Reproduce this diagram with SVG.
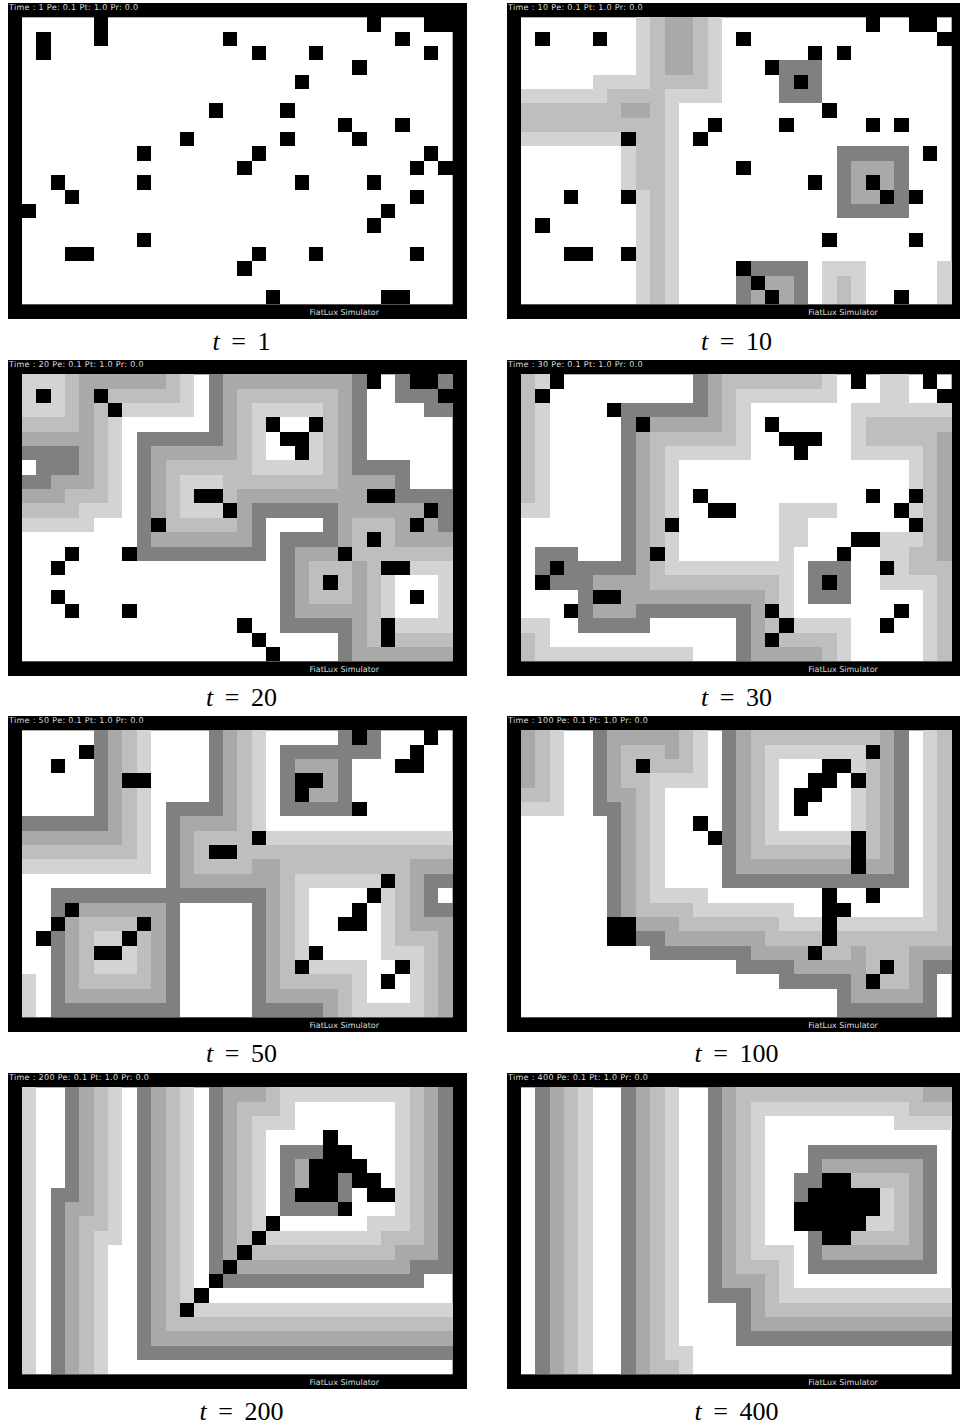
<svg xmlns="http://www.w3.org/2000/svg" width="960" height="1428" viewBox="0 0 960 1428">
<style>
.bg{fill:#fff}
.frame{fill:#000}
.inner{fill:#fff}
.grid path{shape-rendering:crispEdges}
.f1{fill:#d3d3d3}.f2{fill:#bebebe}.f3{fill:#a9a9a9}.f4{fill:#808080}
.s1,.s2,.s3,.s4,.k{fill:none;stroke-width:1}
.s1{stroke:#d3d3d3}.s2{stroke:#bebebe}.s3{stroke:#a9a9a9}.s4{stroke:#808080}.k{stroke:#000}
.hud{font-family:"DejaVu Sans",sans-serif;font-size:8px;fill:#ddd;text-rendering:geometricPrecision}
.top{letter-spacing:.32px}
.cap{font-family:"Liberation Serif",serif;font-size:26px;fill:#000;text-anchor:middle;word-spacing:5px}
.cap tspan{font-style:italic}
</style>
<rect class="bg" width="960" height="1428"/>

<g id="panel-t1">
<rect class="frame" x="8" y="3" width="459" height="316"/>
<rect class="inner" x="22" y="17.33" width="430.67" height="287"/>
<g class="grid" transform="translate(22 17.33) scale(14.356 14.35)">
<path class="k" d="M1.5 1V3M5.5 0V2M14 1.5H15M16 2.5H17M20 2.5H21M24 .5H25M26 1.5H27M28 .5H30M28 2.5H29M23 3.5H24M19 4.5H20M13 6.5H14M18 6.5H19M22 7.5H23M26 7.5H27M23 8.5H24M18 8.5H19M11 8.5H12M8 9.5H9M16 9.5H17M28 9.5H29M15 10.5H16M27 10.5H28M29 10.5H30M2 11.5H3M8 11.5H9M19 11.5H20M24 11.5H25M3 12.5H4M27 12.5H28M0 13.5H1M25 13.5H26M24 14.5H25M8 15.5H9M3 16.5H5M16 16.5H17M20 16.5H21M27 16.5H28M15 17.5H16M17 19.5H18M25 19.5H27"/>
</g>
<text class="hud top" x="9" y="10">Time : 1 Pe: 0.1 Pt: 1.0 Pr: 0.0</text>
<text class="hud" x="309.5" y="315">FiatLux Simulator</text>
<text class="cap" x="241.5" y="350"><tspan>t</tspan> = 1</text>
</g>

<g id="panel-t10">
<rect class="frame" x="507" y="3" width="453" height="316"/>
<rect class="inner" x="521" y="17.33" width="430.67" height="287"/>
<g class="grid" transform="translate(521 17.33) scale(14.356 14.35)">
<path class="f1" d="M8 0H14V6H11V20H8V12H7V9H0V5H5V4H8ZM21 17H24V20H21ZM29 17H30V20H29Z"/>
<path class="f2" d="M9 0H13V5H10V20H9V12H8V8H0V6H6V5H9ZM22 18H23V20H22Z"/>
<path class="f3" d="M10 0H12V4H10ZM7 6H9V7H7Z"/>
<path class="f4" d="M18 3H21V6H18ZM22 9H27V14H22ZM15 17H20V20H15Z"/>
<path class="f3" d="M23 10H26V13H23ZM17 18H19V20H17ZM16 19H17V20H16Z"/>
<path class="k" d="M1 1.5H2M5 1.5H6M15 1.5H16M24 .5H25M27 .5H29M29 1.5H30M20 2.5H21M22 2.5H23M17 3.5H18M19 4.5H20M21 6.5H22M13 7.5H14M18 7.5H19M24 7.5H25M26 7.5H27M12 8.5H13M7 8.5H8M28 9.5H29M15 10.5H16M20 11.5H21M24 11.5H25M25 12.5H26M27 12.5H28M3 12.5H4M7 12.5H8M1 14.5H2M21 15.5H22M27 15.5H28M3 16.5H5M7 16.5H8M15 17.5H16M16 18.5H17M17 19.5H18M26 19.5H27"/>
</g>
<text class="hud top" x="508" y="10">Time : 10 Pe: 0.1 Pt: 1.0 Pr: 0.0</text>
<text class="hud" x="808.3" y="315">FiatLux Simulator</text>
<text class="cap" x="736.5" y="350"><tspan>t</tspan> = 10</text>
</g>

<g id="panel-t20">
<rect class="frame" x="8" y="360" width="459" height="316"/>
<rect class="inner" x="22" y="374.33" width="430.67" height="287"/>
<g class="grid" transform="translate(22 374.33) scale(14.356 14.35)">
<path class="s1" d="M0 .5H3M11 .5H12M0 1.5H3M11 1.5H12M0 2.5H3M7 2.5H12M16 2.5H21M6.5 3V10M16.5 3V7M20.5 4V6M16 6.5H21M11 7.5H14M11 8.5H12M4 9.5H6M11 9.5H14M0 10.5H5M27 13.5H30M29.5 14V17M25.5 14V17M26 17.5H30"/>
<path class="s2" d="M3.5 0V3M10.5 0V2M6 1.5H10M15 1.5H22M5.5 2V9M15.5 2V7M21.5 2V8M0 3.5H4M10 6.5H15M10.5 7V10M14 7.5H21M3 8.5H5M14 8.5H15M0 9.5H4M10 10.5H15M23 10.5H26M23 11.5H24M25 11.5H26M23 12.5H30M20 13.5H23M24.5 13V19M20 14.5H21M22 14.5H23M20 15.5H23M26 18.5H30"/>
<path class="s3" d="M4 .5H10M14 .5H23M4.5 1V8M14.5 1V6M22.5 1V8M0 4.5H4M9 5.5H14M9.5 6V10M2 7.5H4M23 7.5H26M0 8.5H3M15 8.5H24M15 9.5H16M22 9.5H28M15 10.5H16M22 10.5H23M26 10.5H27M28 10.5H29M9 11.5H16M22 11.5H23M26 11.5H30M19 12.5H22M19.5 13V16M23.5 13V19M19 16.5H23M23 19.5H30"/>
<path class="s4" d="M13.5 0V4M23.5 0V6M26 .5H27M29 .5H30M26 1.5H29M28 2.5H30M8 4.5H14M8.5 5V12M0 5.5H4M1 6.5H4M23 6.5H27M0 7.5H2M26 7.5H27M26 8.5H30M16 9.5H22M29 9.5H30M16 10.5H17M21 10.5H22M29 10.5H30M16 11.5H17M18 11.5H22M8 12.5H17M18.5 12V17M18 17.5H23M22.5 18V20"/>
<path class="k" d="M1 1.5H2M5 1.5H6M6 2.5H7M17 3.5H18M20 3.5H21M18 4.5H20M19 5.5H20M24 .5H25M27 .5H29M29 1.5H30M12 8.5H14M14 9.5H15M24 8.5H26M28 9.5H29M27 10.5H28M9 10.5H10M24 11.5H25M3 12.5H4M7 12.5H8M22 12.5H23M2 13.5H3M25 13.5H27M21 14.5H22M2 15.5H3M27 15.5H28M3 16.5H4M7 16.5H8M15 17.5H16M25.5 17V19M16 18.5H17M17 19.5H18"/>
</g>
<text class="hud top" x="9" y="367">Time : 20 Pe: 0.1 Pt: 1.0 Pr: 0.0</text>
<text class="hud" x="309.5" y="672">FiatLux Simulator</text>
<text class="cap" x="241.5" y="706"><tspan>t</tspan> = 20</text>
</g>

<g id="panel-t30">
<rect class="frame" x="507" y="360" width="453" height="316"/>
<rect class="inner" x="521" y="374.33" width="430.67" height="287"/>
<g class="grid" transform="translate(521 374.33) scale(14.356 14.35)">
<path class="s1" d="M1 .5H2M21 .5H22M25 .5H27M25 1.5H27M15 1.5H22M1.5 2V9M15.5 2V5M23 2.5H30M23.5 3V5M10 5.5H16M23 5.5H28M10.5 6V10M27.5 6V8M0 9.5H2M18 9.5H22M27 9.5H28M18 10.5H20M10 11.5H11M18 11.5H20M25 11.5H28M10 12.5H11M18 12.5H19M25 12.5H27M10 13.5H19M26 13.5H27M18 14.5H19M25 14.5H29M18.5 15V17M28.5 15V20M0 17.5H2M19 17.5H23M1 18.5H2M22 18.5H23M1 19.5H12M22 19.5H23"/>
<path class="s2" d="M.5 0V9M14 .5H21M14.5 1V4M24 3.5H30M9 4.5H15M24 4.5H29M9.5 5V12M28.5 5V12M27 12.5H29M9 13.5H10M27 13.5H30M9 14.5H18M29.5 14V20M17 15.5H18M17 17.5H18M0 18.5H1M18 18.5H22M0 19.5H1M21 19.5H22"/>
<path class="s3" d="M13.5 0V3M9 3.5H14M8.5 4V14M29.5 4V13M5 14.5H9M7 15.5H17M5 16.5H8M16.5 16V19M16 19.5H21"/>
<path class="s4" d="M12.5 0V2M7 2.5H13M7.5 3V13M1 12.5H4M1 13.5H2M3 13.5H8M20 13.5H23M2 14.5H5M20 14.5H21M22 14.5H23M4 15.5H5M20 15.5H23M4 16.5H5M8 16.5H16M4 17.5H9M15.5 17V20"/>
<path class="k" d="M2 .5H3M1 1.5H2M6 2.5H7M8 3.5H9M17 3.5H18M18 4.5H21M19 5.5H20M12 8.5H13M13 9.5H15M24 8.5H25M27 8.5H28M26 9.5H27M27 10.5H28M10 10.5H11M23 11.5H25M9 12.5H10M22 12.5H23M2 13.5H3M25 13.5H26M1 14.5H2M21 14.5H22M5 15.5H7M3 16.5H4M17 16.5H18M26 16.5H27M18 17.5H19M25 17.5H26M17 18.5H18M23 .5H24M28 .5H29M29 1.5H30"/>
</g>
<text class="hud top" x="508" y="367">Time : 30 Pe: 0.1 Pt: 1.0 Pr: 0.0</text>
<text class="hud" x="808.3" y="672">FiatLux Simulator</text>
<text class="cap" x="736.5" y="706"><tspan>t</tspan> = 30</text>
</g>

<g id="panel-t50">
<rect class="frame" x="8" y="716" width="459" height="316"/>
<rect class="inner" x="22" y="730.33" width="430.67" height="287"/>
<g class="grid" transform="translate(22 730.33) scale(14.356 14.35)">
<path class="s1" d="M8.5 0V3M8.5 4V10M16.5 0V7M17 7.5H30M0 9.5H9M19 10.5H25M19.5 11V16M25.5 11V15M5 14.5H7M7 15.5H8M25 15.5H28M5 16.5H8M20 16.5H24M27 16.5H28M27.5 17V19M23.5 17V19M.5 17V20M23 19.5H28"/>
<path class="s2" d="M7.5 0V3M7.5 4V8M0 8.5H8M15.5 0V7M12 7.5H16M12 8.5H13M15 8.5H30M12 9.5H16M18 9.5H27M18.5 10V17M26.5 10V14M4 13.5H8M4 14.5H5M8 14.5H9M26 14.5H29M4 15.5H5M8 15.5H9M4 16.5H5M8 16.5H9M28.5 15V20M4 17.5H9M18 17.5H23M22.5 18V20"/>
<path class="s3" d="M6.5 0V7M0 7.5H7M14.5 0V6M19 2.5H22M21 3.5H22M20 4.5H22M11 6.5H15M11.5 7V10M16 9.5H18M11 10.5H18M17.5 11V18M27 9.5H30M27.5 10V13M4 12.5H10M3 13.5H4M9 13.5H10M27 13.5H30M3.5 14V18M9.5 14V18M29.5 14V20M3 18.5H10M17 18.5H22M21 19.5H22"/>
<path class="s4" d="M5.5 0V6M0 6.5H6M13.5 0V5M22 .5H23M24 .5H25M18 1.5H25M18.5 2V5M22.5 2V5M10 5.5H14M18 5.5H23M10.5 6V19M28 10.5H30M2 11.5H17M28 11.5H29M2 12.5H3M16 12.5H17M28 12.5H30M16.5 13V19M2.5 14V19M2 19.5H11M16 19.5H21"/>
<path class="k" d="M4 1.5H5M2 2.5H3M7 3.5H9M23 .5H24M28 .5H29M27 1.5H28M26 2.5H28M19 3.5H21M19 4.5H20M23 5.5H24M16 7.5H17M13 8.5H15M25 10.5H26M24 11.5H25M23 12.5H24M22 13.5H24M3 12.5H4M2 13.5H3M8 13.5H9M1 14.5H2M7 14.5H8M5 15.5H7M20 15.5H21M19 16.5H20M26 16.5H27M25 17.5H26"/>
</g>
<text class="hud top" x="9" y="723">Time : 50 Pe: 0.1 Pt: 1.0 Pr: 0.0</text>
<text class="hud" x="309.5" y="1028">FiatLux Simulator</text>
<text class="cap" x="241.5" y="1062"><tspan>t</tspan> = 50</text>
</g>

<g id="panel-t100">
<rect class="frame" x="507" y="716" width="453" height="316"/>
<rect class="inner" x="521" y="730.33" width="430.67" height="287"/>
<g class="grid" transform="translate(521 730.33) scale(14.356 14.35)">
<path class="s1" d="M2.5 0V5M0 5.5H3M12.5 0V3M28.5 0V13M17 1.5H24M17.5 2V7M23.5 2V3M23.5 4V7M9 3.5H13M9.5 4V11M17 7.5H23M9 11.5H13M12 12.5H19M18 13.5H21M22 13.5H29"/>
<path class="s2" d="M1.5 0V4M0 4.5H2M11 .5H12M16 .5H25M29.5 0V14M11.5 1V2M7 1.5H10M7 2.5H8M9 2.5H12M7 3.5H9M8.5 4V12M8 12.5H12M16.5 1V8M16 8.5H23M24.5 2V9M11 13.5H18M17 14.5H21M22 14.5H30M21 15.5H23M24 15.5H27M24 16.5H25M26 16.5H27M25 17.5H27"/>
<path class="s3" d="M.5 0V4M6 .5H11M25.5 0V9M15.5 0V9M6.5 1V4M10 1.5H11M6 4.5H8M7.5 5V13M15 9.5H23M24 9.5H26M8 13.5H11M10 14.5H17M16 15.5H20M23 15.5H24M27 15.5H30M19 16.5H24M27 16.5H28M23 17.5H24M27 17.5H28M23 18.5H28"/>
<path class="s4" d="M5.5 0V5M5 5.5H7M6.5 6V13M14.5 0V10M26.5 0V10M14 10.5H27M8 14.5H10M9 15.5H16M15 16.5H19M28 16.5H30M18 17.5H23M28 17.5H29M22 18.5H23M28 18.5H29M22 19.5H29"/>
<path class="k" d="M8 2.5H9M24 1.5H25M21 2.5H23M20 3.5H22M23 3.5H24M19 4.5H21M19 5.5H20M12 6.5H13M13 7.5H14M23.5 7V10M21.5 11V15M22 12.5H23M24 11.5H25M6 13.5H8M6 14.5H8M20 15.5H21M25 16.5H26M24 17.5H25"/>
</g>
<text class="hud top" x="508" y="723">Time : 100 Pe: 0.1 Pt: 1.0 Pr: 0.0</text>
<text class="hud" x="808.3" y="1028">FiatLux Simulator</text>
<text class="cap" x="736.5" y="1062"><tspan>t</tspan> = 100</text>
</g>

<g id="panel-t200">
<rect class="frame" x="8" y="1073" width="459" height="316"/>
<rect class="inner" x="22" y="1087.33" width="430.67" height="287"/>
<g class="grid" transform="translate(22 1087.33) scale(14.356 14.35)">
<path class="f1" d="M0 0H1V20H0ZM6 0H7V11H6V20H5V10H6ZM11 0H12V15H11ZM12 15H30V16H12ZM18 0H27V10H25V11H17V10H24V9H26V1H19V3H17V10H16V2H18Z"/>
<path class="f2" d="M5 0H6V10H5V20H4V9H5ZM10 0H11V16H30V17H10ZM17 0H18V2H16V11H15V1H17ZM27 0H28V11H26V12H16V11H25V10H27Z"/>
<path class="f3" d="M4 0H5V9H4V20H3V8H4ZM9 0H10V17H30V18H9ZM14 0H17V1H15V12H14ZM28 0H29V12H27V13H15V12H26V11H28ZM19 5H20V7H19Z"/>
<path class="f4" d="M3 0H4V8H3V20H2V7H3ZM8 0H9V18H30V19H8ZM13 0H14V13H13ZM29 0H30V13H28V14H14V13H27V12H29ZM18 4H21V5H19V8H22V9H18ZM22 6H23V8H22Z"/>
<path class="k" d="M21 3.5H22M21 4.5H23M20 5.5H24M20 6.5H22M23 6.5H25M19 7.5H22M24 7.5H26M22 8.5H23M17 9.5H18M16 10.5H17M15 11.5H16M14 12.5H15M13 13.5H14M12 14.5H13M11 15.5H12"/>
</g>
<text class="hud top" x="9" y="1080">Time : 200 Pe: 0.1 Pt: 1.0 Pr: 0.0</text>
<text class="hud" x="309.5" y="1385">FiatLux Simulator</text>
<text class="cap" x="241.5" y="1420"><tspan>t</tspan> = 200</text>
</g>

<g id="panel-t400">
<rect class="frame" x="507" y="1073" width="453" height="316"/>
<rect class="inner" x="521" y="1087.33" width="430.67" height="287"/>
<g class="grid" transform="translate(521 1087.33) scale(14.356 14.35)">
<path class="f1" d="M4 0H5V20H4ZM10 0H11V18H12V20H11V19H10ZM16 1H27V2H30V3H26V2H17V11H19V14H30V15H18V12H16Z"/>
<path class="f2" d="M3 0H4V20H3ZM9 0H10V19H11V20H9ZM15 0H28V1H30V2H27V1H16V12H18V15H30V16H17V13H15Z"/>
<path class="f3" d="M2 0H3V20H2ZM8 0H9V20H8ZM14 0H15V13H17V16H30V17H16V14H14ZM28 0H30V1H28Z"/>
<path class="f4" d="M1 0H2V20H1ZM7 0H8V20H7ZM13 0H14V14H16V17H30V18H15V15H13ZM19 6H20V8H19ZM20 4H29V13H20Z"/>
<path class="f3" d="M21 5H28V12H21Z"/>
<path class="f2" d="M22 6H27V11H22Z"/>
<path class="f1" d="M23 7H26V10H23Z"/>
<path class="k" d="M21 6.5H23M20 7.5H25M19 8.5H25M19 9.5H24M21 10.5H23"/>
</g>
<text class="hud top" x="508" y="1080">Time : 400 Pe: 0.1 Pt: 1.0 Pr: 0.0</text>
<text class="hud" x="808.3" y="1385">FiatLux Simulator</text>
<text class="cap" x="736.5" y="1420"><tspan>t</tspan> = 400</text>
</g>
</svg>
